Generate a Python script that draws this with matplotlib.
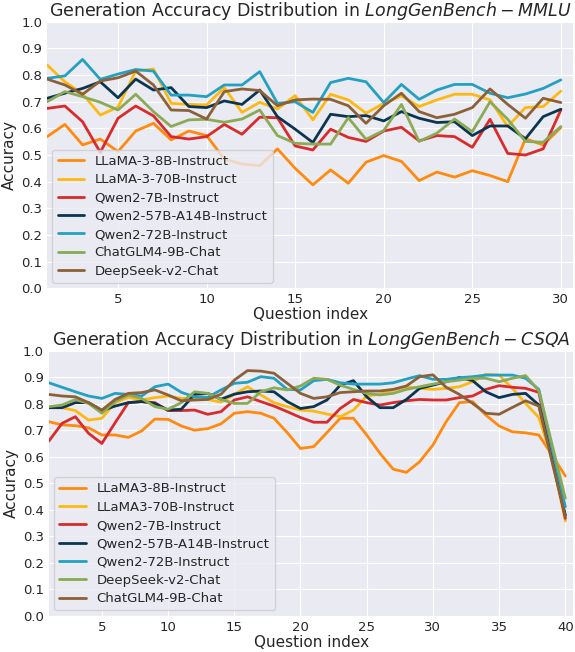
import numpy as np
import matplotlib
matplotlib.use("Agg")
from matplotlib import pyplot as plt

# ---- MMLU (top) ----
mmlu_idx = list(range(1, 31))
mmlu_llama8 = [0.569, 0.615, 0.538, 0.56, 0.513, 0.59, 0.619, 0.557, 0.59, 0.573,
               0.485, 0.466, 0.46, 0.523, 0.45, 0.388, 0.444, 0.394, 0.473, 0.498,
               0.476, 0.404, 0.436, 0.417, 0.441, 0.423, 0.40, 0.561, 0.538, 0.603]
mmlu_llama70 = [0.838, 0.775, 0.73, 0.65, 0.68, 0.815, 0.823, 0.694, 0.69, 0.688,
                0.753, 0.66, 0.698, 0.673, 0.723, 0.632, 0.728, 0.707, 0.657, 0.694,
                0.722, 0.682, 0.707, 0.728, 0.728, 0.707, 0.607, 0.678, 0.682, 0.74]
mmlu_qwen7 = [0.675, 0.684, 0.625, 0.51, 0.638, 0.684, 0.647, 0.569, 0.56, 0.569,
              0.615, 0.578, 0.642, 0.64, 0.534, 0.519, 0.597, 0.566, 0.551, 0.59,
              0.604, 0.553, 0.573, 0.569, 0.529, 0.634, 0.506, 0.50, 0.523, 0.669]
mmlu_qwen57 = [0.713, 0.732, 0.75, 0.775, 0.715, 0.785, 0.744, 0.753, 0.682, 0.678,
               0.703, 0.69, 0.744, 0.644, 0.597, 0.547, 0.653, 0.644, 0.648, 0.628,
               0.663, 0.638, 0.622, 0.625, 0.573, 0.609, 0.609, 0.561, 0.644, 0.672]
mmlu_qwen72 = [0.788, 0.797, 0.859, 0.784, 0.804, 0.821, 0.815, 0.725, 0.725, 0.719,
               0.763, 0.763, 0.813, 0.694, 0.70, 0.66, 0.772, 0.788, 0.775, 0.697,
               0.765, 0.709, 0.744, 0.765, 0.765, 0.732, 0.715, 0.729, 0.75, 0.782]
mmlu_glm = [0.70, 0.738, 0.719, 0.698, 0.669, 0.728, 0.663, 0.607, 0.632, 0.634,
            0.623, 0.635, 0.669, 0.573, 0.544, 0.541, 0.541, 0.64, 0.559, 0.592,
            0.69, 0.551, 0.582, 0.635, 0.588, 0.70, 0.634, 0.551, 0.548, 0.607]
mmlu_deepseek = [0.785, 0.763, 0.728, 0.778, 0.79, 0.815, 0.763, 0.669, 0.667, 0.635,
                 0.738, 0.748, 0.742, 0.685, 0.707, 0.71, 0.709, 0.685, 0.619, 0.685,
                 0.732, 0.663, 0.64, 0.653, 0.678, 0.748, 0.69, 0.638, 0.713, 0.697]

# ---- CSQA (bottom) ----
csqa_idx = list(range(1, 41))
csqa_llama8 = [0.732, 0.72, 0.717, 0.709, 0.682, 0.682, 0.673, 0.697, 0.742, 0.741,
               0.716, 0.70, 0.706, 0.724, 0.764, 0.77, 0.764, 0.745, 0.691, 0.631,
               0.638, 0.691, 0.745, 0.745, 0.682, 0.613, 0.553, 0.541, 0.581, 0.644,
               0.732, 0.804, 0.808, 0.757, 0.716, 0.694, 0.69, 0.682, 0.606, 0.527]
csqa_llama70 = [0.785, 0.785, 0.774, 0.738, 0.745, 0.804, 0.824, 0.814, 0.823, 0.829,
                0.82, 0.82, 0.816, 0.806, 0.835, 0.864, 0.833, 0.804, 0.789, 0.776,
                0.772, 0.761, 0.751, 0.776, 0.829, 0.836, 0.851, 0.864, 0.858, 0.854,
                0.858, 0.864, 0.883, 0.911, 0.908, 0.858, 0.801, 0.748, 0.59, 0.358]
csqa_qwen7 = [0.659, 0.726, 0.751, 0.688, 0.65, 0.728, 0.804, 0.808, 0.804, 0.774,
              0.774, 0.776, 0.76, 0.77, 0.814, 0.826, 0.808, 0.791, 0.77, 0.748,
              0.73, 0.73, 0.782, 0.816, 0.804, 0.795, 0.804, 0.811, 0.816, 0.814,
              0.814, 0.823, 0.829, 0.854, 0.868, 0.862, 0.858, 0.843, 0.605, 0.367]
csqa_qwen57 = [0.785, 0.785, 0.804, 0.804, 0.774, 0.791, 0.804, 0.808, 0.801, 0.776,
               0.779, 0.835, 0.839, 0.817, 0.836, 0.845, 0.848, 0.845, 0.808, 0.782,
               0.789, 0.814, 0.87, 0.887, 0.826, 0.785, 0.785, 0.816, 0.858, 0.87,
               0.883, 0.899, 0.887, 0.845, 0.823, 0.835, 0.839, 0.795, 0.59, 0.38]
csqa_qwen72 = [0.879, 0.862, 0.845, 0.829, 0.82, 0.839, 0.835, 0.829, 0.864, 0.874,
               0.843, 0.826, 0.824, 0.852, 0.877, 0.881, 0.902, 0.896, 0.854, 0.852,
               0.887, 0.892, 0.879, 0.874, 0.874, 0.874, 0.879, 0.893, 0.906, 0.892,
               0.892, 0.898, 0.902, 0.908, 0.908, 0.908, 0.896, 0.854, 0.63, 0.411]
csqa_deepseek = [0.789, 0.795, 0.816, 0.801, 0.764, 0.808, 0.833, 0.82, 0.789, 0.779,
                 0.804, 0.845, 0.839, 0.816, 0.801, 0.801, 0.845, 0.86, 0.852, 0.867,
                 0.896, 0.892, 0.87, 0.854, 0.839, 0.833, 0.839, 0.854, 0.864, 0.874,
                 0.883, 0.889, 0.896, 0.896, 0.883, 0.896, 0.906, 0.849, 0.646, 0.443]
csqa_glm = [0.835, 0.829, 0.826, 0.804, 0.776, 0.816, 0.839, 0.842, 0.852, 0.833,
            0.811, 0.814, 0.816, 0.836, 0.889, 0.925, 0.923, 0.915, 0.877, 0.839,
            0.82, 0.826, 0.842, 0.845, 0.848, 0.848, 0.854, 0.867, 0.902, 0.909,
            0.862, 0.835, 0.801, 0.764, 0.76, 0.786, 0.811, 0.791, 0.58, 0.374]

c_orange = "#FF8A0E"
c_yellow = "#FDB913"
c_red = "#D92B2B"
c_navy = "#0B3550"
c_cyan = "#23A0C2"
c_green = "#8BAA55"
c_brown = "#8C6139"

plt.style.use("seaborn-v0_8-darkgrid")
plt.rcParams["font.family"] = "DejaVu Sans"

fig = plt.figure(figsize=(5.75, 6.52), dpi=100)
ax1 = fig.add_axes([0.082, 0.558, 0.915, 0.4085])
ax2 = fig.add_axes([0.085, 0.0557, 0.912, 0.4064])

top_series = [
    (mmlu_llama8, "LLaMA-3-8B-Instruct", c_orange),
    (mmlu_llama70, "LLaMA-3-70B-Instruct", c_yellow),
    (mmlu_qwen7, "Qwen2-7B-Instruct", c_red),
    (mmlu_qwen57, "Qwen2-57B-A14B-Instruct", c_navy),
    (mmlu_qwen72, "Qwen2-72B-Instruct", c_cyan),
    (mmlu_glm, "ChatGLM4-9B-Chat", c_green),
    (mmlu_deepseek, "DeepSeek-v2-Chat", c_brown),
]
bottom_series = [
    (csqa_llama8, "LLaMA3-8B-Instruct", c_orange),
    (csqa_llama70, "LLaMA3-70B-Instruct", c_yellow),
    (csqa_qwen7, "Qwen2-7B-Instruct", c_red),
    (csqa_qwen57, "Qwen2-57B-A14B-Instruct", c_navy),
    (csqa_qwen72, "Qwen2-72B-Instruct", c_cyan),
    (csqa_deepseek, "DeepSeek-v2-Chat", c_green),
    (csqa_glm, "ChatGLM4-9B-Chat", c_brown),
]

for ax, idx, series, title, xmax in [
    (ax1, mmlu_idx, top_series, r"Generation Accuracy Distribution in $LongGenBench-MMLU$", 30.7),
    (ax2, csqa_idx, bottom_series, r"Generation Accuracy Distribution in $LongGenBench-CSQA$", 40.6),
]:
    for vals, name, col in series:
        ax.plot(idx, vals, color=col, lw=2, label=name)
    ax.set_xlim(1, xmax)
    ax.set_ylim(0, 1)
    ax.set_yticks(np.arange(0, 1.01, 0.1))
    ax.set_xticks(list(range(5, idx[-1] + 1, 5)))
    ax.tick_params(labelsize=9.5)
    ax.set_xlabel("Question index", fontsize=11, labelpad=1)
    ax.set_ylabel("Accuracy", fontsize=11, labelpad=3)
    ax.set_title(title, fontsize=12.5, pad=2)
    ax.legend(loc="lower left", fontsize=9.5, frameon=True, handlelength=2.0,
              labelspacing=0.4, borderaxespad=0.4)

fig.savefig("out.png", dpi=100)
